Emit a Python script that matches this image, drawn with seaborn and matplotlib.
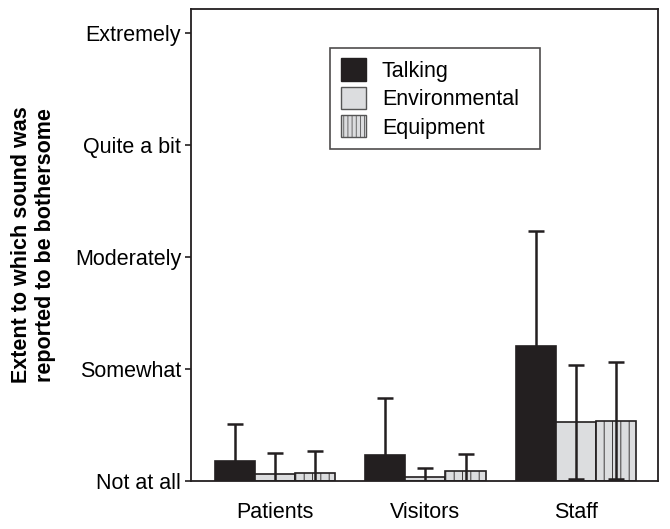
import matplotlib
matplotlib.use("Agg")
import matplotlib.pyplot as plt
import seaborn as sns
import pandas as pd
import numpy as np
from matplotlib.patches import Patch

groups = ["Patients", "Visitors", "Staff"]
sources = ["Talking", "Environmental", "Equipment"]
talking = [0.18, 0.23, 1.21]
environmental = [0.06, 0.035, 0.53]
equipment = [0.07, 0.09, 0.54]
talking_err = [0.33, 0.51, 1.02]
environmental_err = [0.19, 0.08, 0.51]
equipment_err = [0.20, 0.15, 0.52]
ytick_labels = ["Not at all", "Somewhat", "Moderately", "Quite a bit", "Extremely"]

rows = []
for src, vals, errs in [("Talking", talking, talking_err),
                        ("Environmental", environmental, environmental_err),
                        ("Equipment", equipment, equipment_err)]:
    for g, v, e in zip(groups, vals, errs):
        rows.append({"group": g, "source": src, "value": v, "err": e})
df = pd.DataFrame(rows)

sns.set_style("white")
plt.rcParams["font.family"] = ["Liberation Sans", "DejaVu Sans"]
plt.rcParams["hatch.linewidth"] = 0.6
plt.rcParams["text.color"] = "black"
plt.rcParams["xtick.color"] = "black"
plt.rcParams["ytick.color"] = "black"
plt.rcParams["axes.labelcolor"] = "black"

fig = plt.figure(figsize=(6.7, 5.29), dpi=100)
ax = fig.add_axes([0.285, 0.0907, 0.697, 0.8923])

colors = {"Talking": "#231f20", "Environmental": "#dcdddf", "Equipment": "#dcdddf"}
sns.barplot(data=df, x="group", y="value", hue="source", order=groups,
            hue_order=sources, palette=colors, errorbar=None, width=0.8,
            edgecolor="#231f20", linewidth=1.2, ax=ax, saturation=1)

for container, src in zip(ax.containers, sources):
    sub = df[df.source == src].set_index("group").loc[groups]
    xs = []
    for patch in container.patches:
        xs.append(patch.get_x() + patch.get_width() / 2)
        if src == "Equipment":
            patch.set_hatch("||")
    ax.errorbar(xs, sub["value"].values, yerr=sub["err"].values, fmt="none",
                ecolor="#231f20", elinewidth=1.8, capsize=6, capthick=1.8,
                zorder=5)

ax.legend_.remove()
handles = [Patch(facecolor="#231f20", edgecolor="#231f20", label="Talking"),
           Patch(facecolor="#dcdddf", edgecolor="#555555", label="Environmental"),
           Patch(facecolor="#dcdddf", edgecolor="#555555", hatch="||||", label="Equipment")]
leg = ax.legend(handles=handles, loc="upper left",
                bbox_to_anchor=(0.298, 0.4, 0.45, 0.518), mode="expand",
                fontsize=15.5, frameon=True, fancybox=False, edgecolor="#231f20",
                handlelength=1.15, handleheight=1.2, handletextpad=0.75,
                labelspacing=0.24, borderpad=0.5, borderaxespad=0)
leg.get_frame().set_linewidth(1.2)

ax.set_xlim(-0.558, 2.545)
ax.set_ylim(0, 4.215)
ax.set_yticks([0, 1, 2, 3, 4])
ax.set_yticklabels(ytick_labels, fontsize=15.5)
ax.tick_params(axis="y", direction="out", length=4, width=1.2, color="#231f20", pad=3, left=True)
ax.tick_params(axis="x", length=0, labelsize=15.5, pad=15)
ax.set_xlabel("")
ax.set_ylabel("Extent to which sound was\nreported to be bothersome", fontsize=15.5,
              fontweight="bold", linespacing=1.15)
ax.yaxis.set_label_coords(-0.29, 0.5)
for sp in ax.spines.values():
    sp.set_visible(True)
    sp.set_color("#231f20")
    sp.set_linewidth(1.3)

fig.savefig("out.png", dpi=100)
